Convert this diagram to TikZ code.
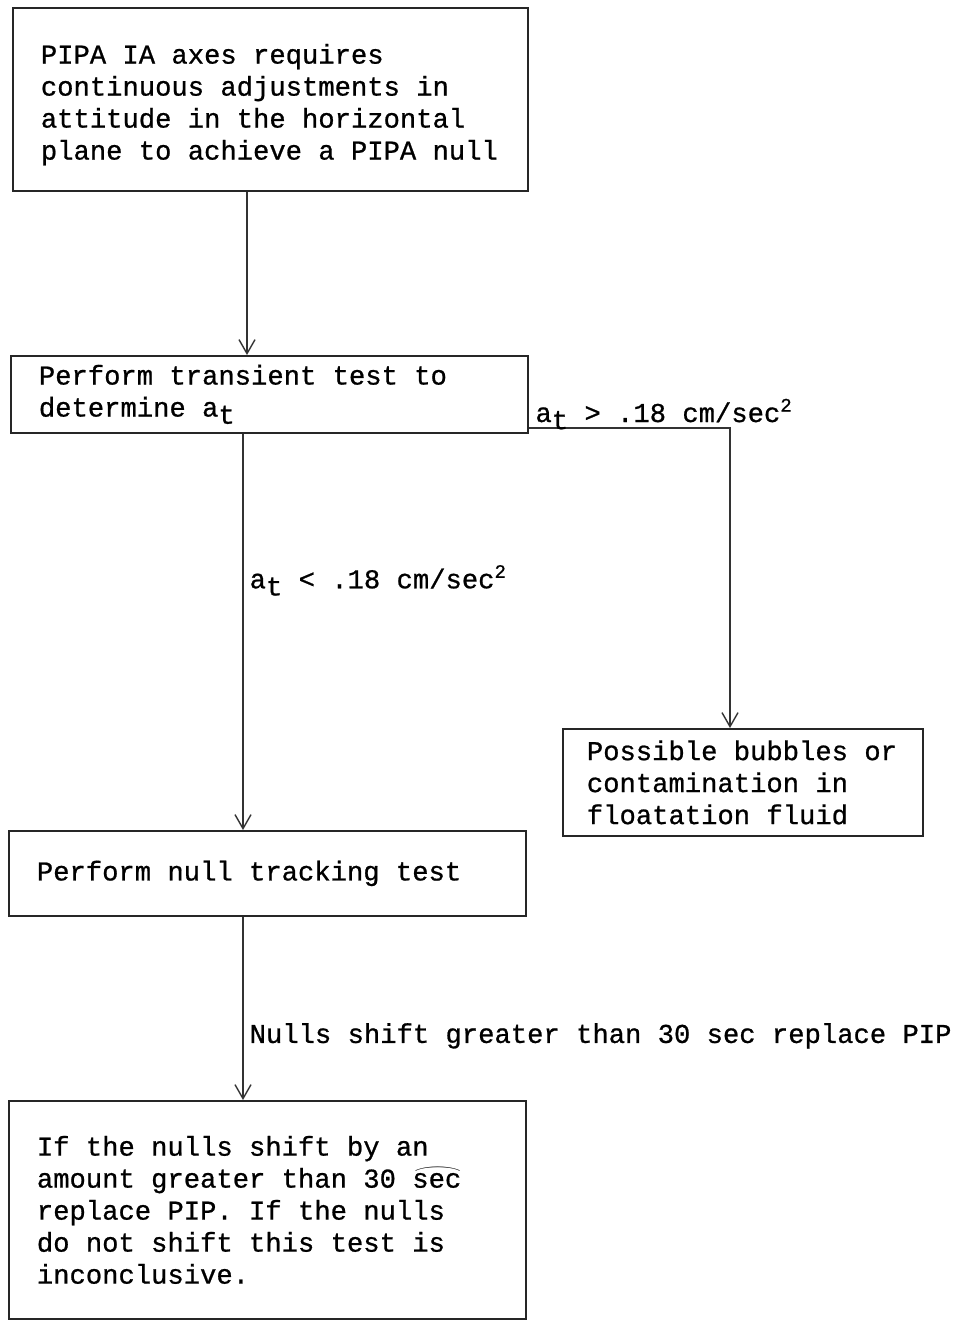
\documentclass[tikz,border=0pt]{standalone}
\usepackage{fontspec}
\setmainfont{Liberation Mono}[FakeBold=0.8]
\usetikzlibrary{arrows.meta}
\newcommand{\subt}{\raisebox{-0.5ex}{t}}
\newcommand{\arcsec}{\rlap{\raisebox{0.95ex}{\scalebox{1.8}[0.6]{$\frown$}}}sec}

\begin{document}
\begin{tikzpicture}[x=0.5pt,y=-0.5pt]
        \tikzset{stepbox/.style = {draw=black!85, line width=0.9pt, anchor=north west, align=flush left, inner xsep=14pt, inner ysep=2pt, font=\fontsize{13.6}{16}\selectfont}};
        \tikzset{edge/.style = {-{Straight Barb[length=7pt,width=8pt]}, draw=black!80, line width=0.7pt}};
        \tikzset{cond/.style = {font=\fontsize{13.6}{16}\selectfont, inner sep=3pt}};
        \useasboundingbox (0,0) rectangle (972,1324);
        \node[stepbox, text width=229.5pt, minimum height=91.5pt] (need) at (12,7) {\rule{0pt}{17pt}PIPA IA axes requires\\continuous adjustments in\\attitude in the horizontal\\plane to achieve a PIPA null\strut};
        \node[stepbox, text width=230.5pt, minimum height=38.5pt] (transient) at (10,355) {Perform transient test to\\determine a\subt};
        \node[stepbox, inner xsep=12pt, text width=156pt, minimum height=53.5pt] (bubbles) at (562,728) {Possible bubbles or\\contamination in\\floatation fluid};
        \node[stepbox, text width=230.5pt, minimum height=42.5pt] (tracking) at (8,830) {Perform null tracking test};
        \node[stepbox, text width=230.5pt, minimum height=109pt] (replace) at (8,1100) {If the nulls shift by an\\amount greater than 30 \arcsec\\replace PIP. If the nulls\\do not shift this test is\\inconclusive.};
        \draw[edge] (need.south -| 247,0) to (transient.north -| 247,0);
        \draw[edge] (transient.east |- 0,428) node[cond, anchor=base west, yshift=3pt] (gtlab) {a\subt{} > .18 cm/sec\textsuperscript{2}} -| (bubbles.north -| 730,0);
        \draw[edge] (transient.south -| 243,0) to node[cond, pos=0.37, right] (ltlab) {a\subt{} < .18 cm/sec\textsuperscript{2}} (tracking.north -| 243,0);
        \draw[edge] (tracking.south -| 243,0) to node[cond, pos=0.65, right] (shiftlab) {Nulls shift greater than 30 sec replace PIP} (replace.north -| 243,0);
    \end{tikzpicture}
\end{document}
